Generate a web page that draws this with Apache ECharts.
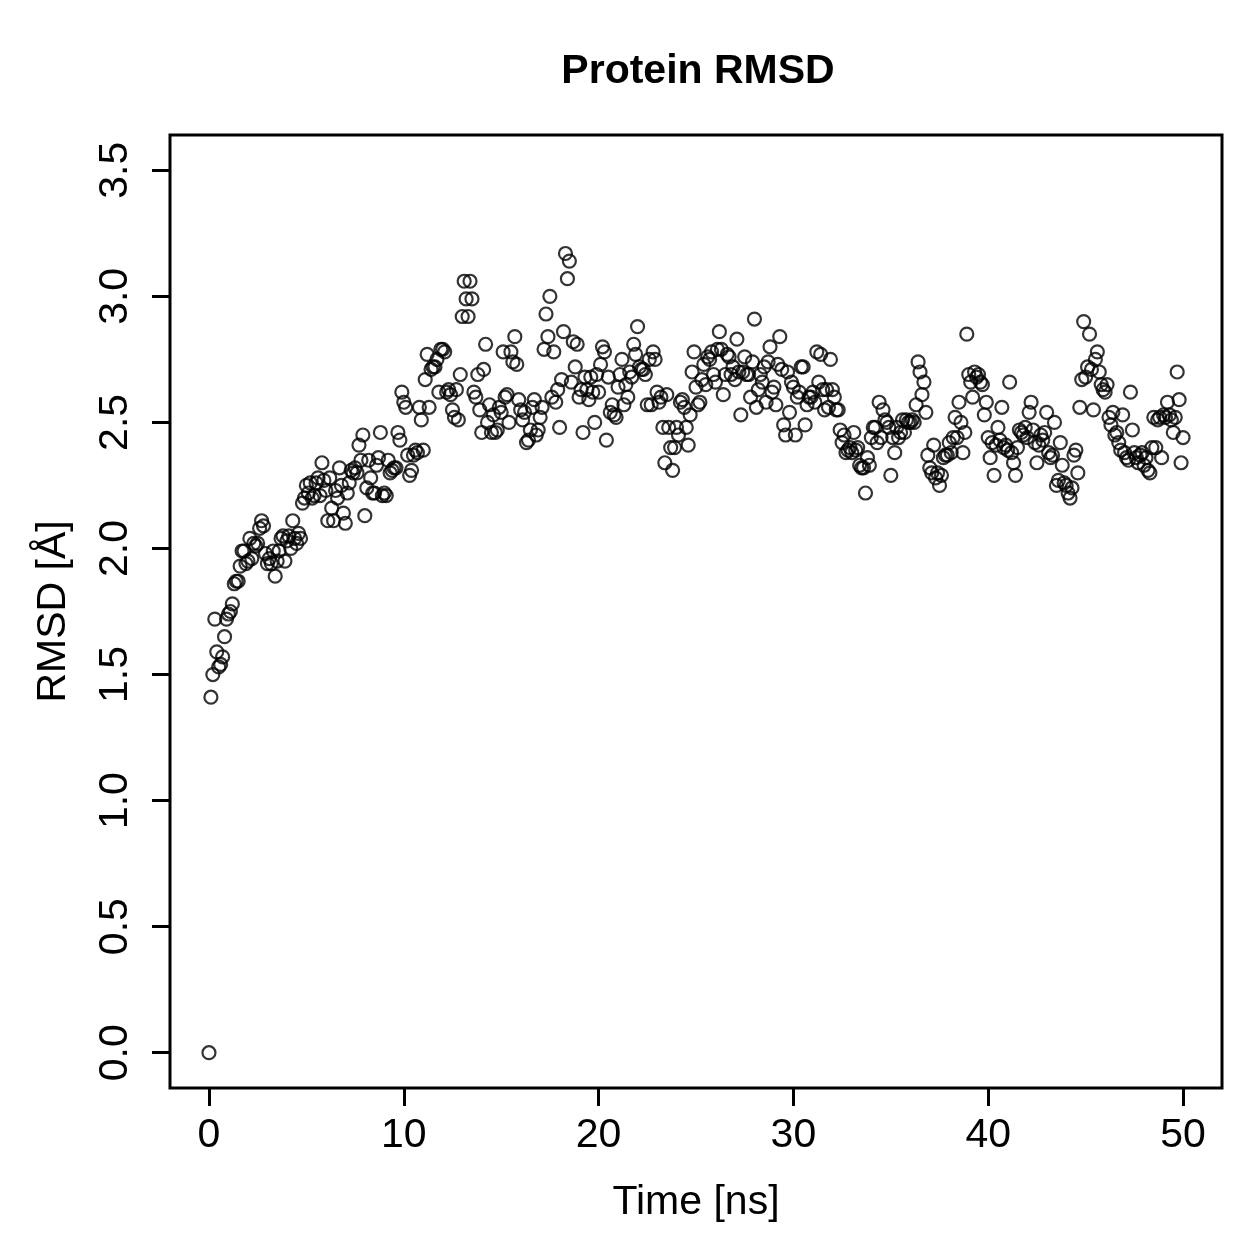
<!DOCTYPE html>
<html>
<head>
<meta charset="utf-8">
<title>Protein RMSD</title>
<script src="https://cdn.jsdelivr.net/npm/echarts@6/dist/echarts.min.js"></script>
<style>
  html, body { margin: 0; padding: 0; background: #fff; }
  #chart { width: 1259px; height: 1259px; }
</style>
</head>
<body>
<div id="chart"></div>
<script>
// RMSD per frame, one frame every 0.1 ns (rows = 1 ns)
const rmsd = [
  0.00, 1.41, 1.50, 1.72, 1.59, 1.53, 1.54, 1.57, 1.65, 1.72,
  1.74, 1.75, 1.78, 1.86, 1.87, 1.87, 1.93, 1.99, 1.99, 1.94,
  1.95, 2.04, 1.96, 2.02, 2.01, 2.02, 2.08, 2.11, 2.09, 1.98,
  1.94, 1.96, 1.94, 1.99, 1.89, 1.95, 1.99, 2.04, 2.05, 1.95,
  2.03, 2.05, 2.00, 2.11, 2.04, 2.02, 2.06, 2.04, 2.18, 2.20,
  2.25, 2.22, 2.26, 2.20, 2.21, 2.26, 2.28, 2.21, 2.34, 2.27,
  2.23, 2.11, 2.28, 2.16, 2.11, 2.23, 2.20, 2.32, 2.25, 2.14,
  2.10, 2.22, 2.26, 2.31, 2.30, 2.32, 2.30, 2.41, 2.35, 2.45,
  2.13, 2.24, 2.35, 2.28, 2.22, 2.22, 2.33, 2.36, 2.46, 2.21,
  2.22, 2.21, 2.35, 2.30, 2.31, 2.32, 2.32, 2.46, 2.43, 2.62,
  2.58, 2.56, 2.37, 2.29, 2.31, 2.37, 2.39, 2.38, 2.56, 2.51,
  2.39, 2.67, 2.77, 2.56, 2.71, 2.72, 2.72, 2.75, 2.62, 2.79,
  2.79, 2.78, 2.62, 2.63, 2.61, 2.55, 2.52, 2.63, 2.51, 2.69,
  2.92, 3.06, 2.99, 2.92, 3.06, 2.99, 2.62, 2.60, 2.69, 2.55,
  2.46, 2.71, 2.81, 2.50, 2.57, 2.46, 2.53, 2.46, 2.47, 2.56,
  2.54, 2.78, 2.60, 2.61, 2.50, 2.78, 2.74, 2.84, 2.73, 2.59,
  2.55, 2.51, 2.54, 2.42, 2.43, 2.47, 2.56, 2.59, 2.45, 2.47,
  2.52, 2.56, 2.79, 2.93, 2.84, 3.00, 2.60, 2.78, 2.58, 2.63,
  2.48, 2.67, 2.86, 3.17, 3.07, 3.14, 2.66, 2.82, 2.72, 2.81,
  2.60, 2.63, 2.46, 2.68, 2.63, 2.59, 2.68, 2.62, 2.50, 2.69,
  2.62, 2.73, 2.80, 2.78, 2.43, 2.68, 2.54, 2.57, 2.53, 2.52,
  2.64, 2.69, 2.75, 2.57, 2.65, 2.60, 2.70, 2.68, 2.81, 2.77,
  2.88, 2.72, 2.71, 2.71, 2.69, 2.57, 2.75, 2.57, 2.78, 2.75,
  2.62, 2.58, 2.60, 2.48, 2.34, 2.61, 2.48, 2.40, 2.31, 2.40,
  2.48, 2.45, 2.58, 2.59, 2.56, 2.48, 2.41, 2.53, 2.70, 2.78,
  2.64, 2.57, 2.58, 2.67, 2.73, 2.65, 2.76, 2.75, 2.78, 2.69,
  2.66, 2.79, 2.86, 2.79, 2.61, 2.69, 2.77, 2.76, 2.69, 2.72,
  2.67, 2.83, 2.70, 2.53, 2.70, 2.76, 2.69, 2.69, 2.60, 2.74,
  2.91, 2.56, 2.63, 2.69, 2.66, 2.72, 2.58, 2.74, 2.80, 2.62,
  2.64, 2.57, 2.73, 2.84, 2.71, 2.49, 2.45, 2.70, 2.54, 2.66,
  2.64, 2.45, 2.60, 2.62, 2.72, 2.72, 2.49, 2.57, 2.60, 2.60,
  2.62, 2.58, 2.78, 2.66, 2.77, 2.63, 2.55, 2.63, 2.56, 2.75,
  2.63, 2.60, 2.55, 2.55, 2.47, 2.42, 2.45, 2.38, 2.39, 2.40,
  2.38, 2.46, 2.39, 2.40, 2.33, 2.32, 2.32, 2.22, 2.36, 2.33,
  2.44, 2.48, 2.48, 2.42, 2.58, 2.44, 2.55, 2.51, 2.50, 2.48,
  2.29, 2.44, 2.38, 2.48, 2.44, 2.46, 2.51, 2.46, 2.51, 2.50,
  2.50, 2.51, 2.50, 2.57, 2.74, 2.70, 2.61, 2.66, 2.54, 2.37,
  2.32, 2.30, 2.41, 2.28, 2.30, 2.25, 2.29, 2.36, 2.37, 2.37,
  2.42, 2.38, 2.44, 2.52, 2.44, 2.58, 2.50, 2.38, 2.46, 2.85,
  2.69, 2.66, 2.60, 2.70, 2.68, 2.69, 2.66, 2.65, 2.53, 2.58,
  2.44, 2.36, 2.42, 2.29, 2.41, 2.48, 2.43, 2.56, 2.40, 2.41,
  2.39, 2.66, 2.38, 2.34, 2.29, 2.40, 2.47, 2.46, 2.45, 2.48,
  2.44, 2.54, 2.58, 2.47, 2.42, 2.34, 2.41, 2.45, 2.43, 2.46,
  2.54, 2.38, 2.36, 2.37, 2.50, 2.25, 2.27, 2.42, 2.33, 2.26,
  2.25, 2.22, 2.20, 2.24, 2.37, 2.39, 2.30, 2.56, 2.67, 2.90,
  2.68, 2.72, 2.85, 2.71, 2.55, 2.75, 2.78, 2.70, 2.65, 2.63,
  2.62, 2.65, 2.52, 2.49, 2.54, 2.45, 2.46, 2.42, 2.39, 2.53,
  2.38, 2.36, 2.35, 2.62, 2.47, 2.38, 2.36, 2.34, 2.37, 2.38,
  2.33, 2.36, 2.31, 2.30, 2.40, 2.52, 2.40, 2.51, 2.52, 2.36,
  2.53, 2.52, 2.58, 2.53, 2.51, 2.46, 2.52, 2.70, 2.59, 2.34,
  2.44
];
const frameStep = 0.1; // ns between frames

const xTicks = [0, 10, 20, 30, 40, 50];
const yTicks = [0, 0.5, 1.0, 1.5, 2.0, 2.5, 3.0, 3.5];

const points = rmsd.map((v, i) => [+(i * frameStep).toFixed(1), v]);

const font = '"Liberation Sans", Arial, Helvetica, sans-serif';
const chart = echarts.init(document.getElementById('chart'), null, { renderer: 'canvas' });

chart.setOption({
  animation: false,
  backgroundColor: '#fff',
  title: {
    text: 'Protein RMSD',
    left: 693,
    top: 46,
    textAlign: 'center',
    textStyle: { fontFamily: font, fontSize: 41, fontWeight: 'bold', color: '#000' }
  },
  grid: {
    left: 170,
    top: 135,
    right: 37,
    bottom: 171,
    show: true,
    borderColor: '#000',
    borderWidth: 3,
    backgroundColor: 'transparent'
  },
  xAxis: {
    type: 'value',
    min: -2,
    max: 52,
    name: 'Time [ns]',
    nameLocation: 'middle',
    nameGap: 94,
    nameTextStyle: { fontFamily: font, fontSize: 41, color: '#000' },
    axisLine: { show: false, onZero: false },
    splitLine: { show: false },
    axisTick: {
      show: true,
      inside: false,
      length: 18,
      customValues: xTicks,
      lineStyle: { color: '#000', width: 3 }
    },
    axisLabel: {
      customValues: xTicks,
      margin: 27,
      fontFamily: font,
      fontSize: 41,
      color: '#000'
    }
  },
  yAxis: {
    type: 'value',
    min: -0.14,
    max: 3.64,
    name: 'RMSD [Å]',
    nameLocation: 'middle',
    nameGap: 96,
    nameRotate: 90,
    nameTextStyle: { fontFamily: font, fontSize: 41, color: '#000' },
    axisLine: { show: false, onZero: false },
    splitLine: { show: false },
    axisTick: {
      show: true,
      inside: false,
      length: 18,
      customValues: yTicks,
      lineStyle: { color: '#000', width: 3 }
    },
    axisLabel: {
      customValues: yTicks,
      rotate: 90,
      margin: 34,
      fontFamily: font,
      fontSize: 41,
      color: '#000',
      formatter: (v) => v.toFixed(1)
    }
  },
  series: [{
    type: 'scatter',
    data: points,
    symbol: 'circle',
    symbolSize: 13,
    silent: true,
    itemStyle: {
      color: 'rgba(0,0,0,0)',
      borderColor: '#000',
      borderWidth: 2.2
    }
  }]
});
</script>
</body>
</html>
